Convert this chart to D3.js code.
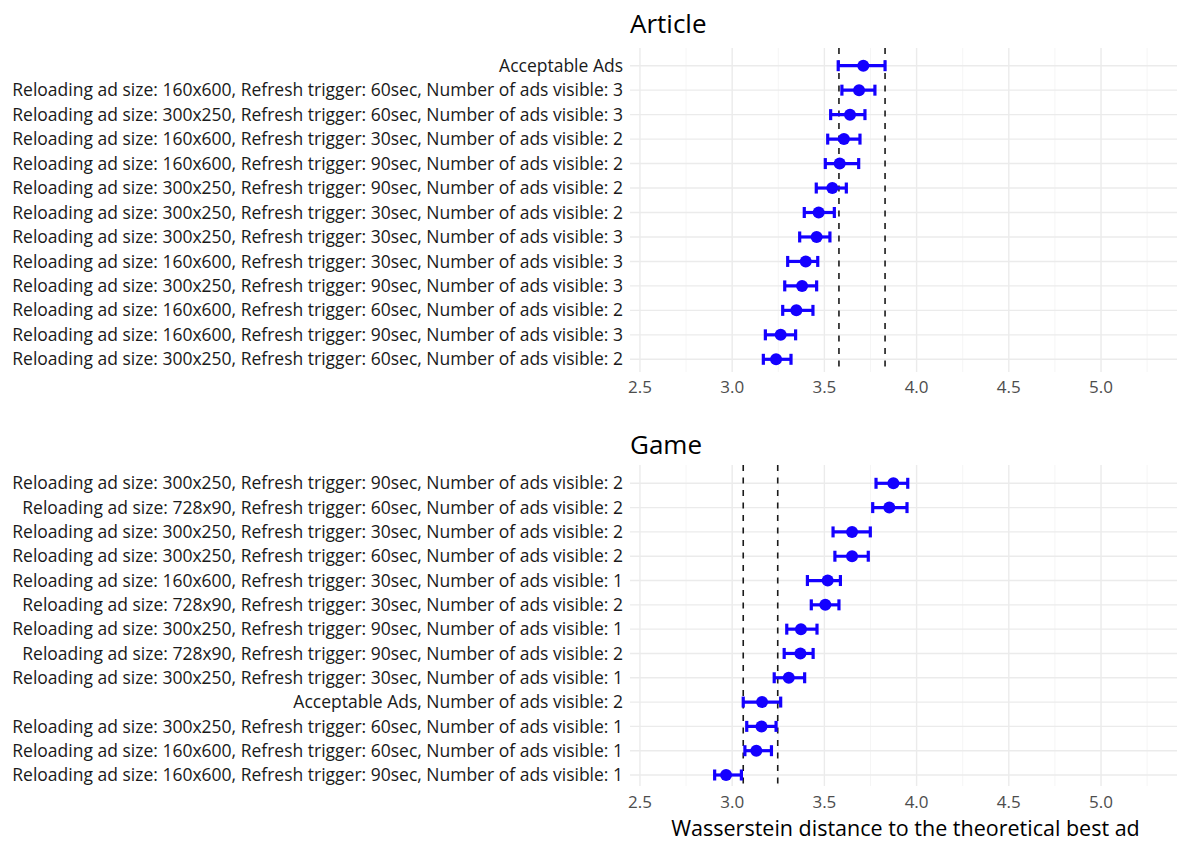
<!DOCTYPE html>
<html>
<head>
<meta charset="utf-8">
<script src="https://cdn.jsdelivr.net/npm/d3@7"></script>
<style>
  html, body { margin: 0; padding: 0; background: #fff; }
  svg { display: block; font-family: "Open Sans", "Noto Sans", sans-serif; }
</style>
</head>
<body>
<svg id="chart" width="1177" height="843"></svg>
<script>
// ---------- Data ----------
const articleCategories = [
  "Acceptable Ads",
  "Reloading ad size: 160x600, Refresh trigger: 60sec, Number of ads visible: 3",
  "Reloading ad size: 300x250, Refresh trigger: 60sec, Number of ads visible: 3",
  "Reloading ad size: 160x600, Refresh trigger: 30sec, Number of ads visible: 2",
  "Reloading ad size: 160x600, Refresh trigger: 90sec, Number of ads visible: 2",
  "Reloading ad size: 300x250, Refresh trigger: 90sec, Number of ads visible: 2",
  "Reloading ad size: 300x250, Refresh trigger: 30sec, Number of ads visible: 2",
  "Reloading ad size: 300x250, Refresh trigger: 30sec, Number of ads visible: 3",
  "Reloading ad size: 160x600, Refresh trigger: 30sec, Number of ads visible: 3",
  "Reloading ad size: 300x250, Refresh trigger: 90sec, Number of ads visible: 3",
  "Reloading ad size: 160x600, Refresh trigger: 60sec, Number of ads visible: 2",
  "Reloading ad size: 160x600, Refresh trigger: 90sec, Number of ads visible: 3",
  "Reloading ad size: 300x250, Refresh trigger: 60sec, Number of ads visible: 2"
];
const articleMean  = [3.711, 3.688, 3.639, 3.606, 3.583, 3.543, 3.469, 3.458, 3.399, 3.379, 3.348, 3.263, 3.238];
const articleLower = [3.575, 3.595, 3.534, 3.518, 3.505, 3.456, 3.391, 3.366, 3.301, 3.285, 3.274, 3.180, 3.169];
const articleUpper = [3.829, 3.774, 3.720, 3.693, 3.686, 3.619, 3.554, 3.530, 3.464, 3.458, 3.438, 3.344, 3.319];
const articleRefLines = [3.579, 3.829];

const gameCategories = [
  "Reloading ad size: 300x250, Refresh trigger: 90sec, Number of ads visible: 2",
  "Reloading ad size: 728x90, Refresh trigger: 60sec, Number of ads visible: 2",
  "Reloading ad size: 300x250, Refresh trigger: 30sec, Number of ads visible: 2",
  "Reloading ad size: 300x250, Refresh trigger: 60sec, Number of ads visible: 2",
  "Reloading ad size: 160x600, Refresh trigger: 30sec, Number of ads visible: 1",
  "Reloading ad size: 728x90, Refresh trigger: 30sec, Number of ads visible: 2",
  "Reloading ad size: 300x250, Refresh trigger: 90sec, Number of ads visible: 1",
  "Reloading ad size: 728x90, Refresh trigger: 90sec, Number of ads visible: 2",
  "Reloading ad size: 300x250, Refresh trigger: 30sec, Number of ads visible: 1",
  "Acceptable Ads, Number of ads visible: 2",
  "Reloading ad size: 300x250, Refresh trigger: 60sec, Number of ads visible: 1",
  "Reloading ad size: 160x600, Refresh trigger: 60sec, Number of ads visible: 1",
  "Reloading ad size: 160x600, Refresh trigger: 90sec, Number of ads visible: 1"
];
const gameMean  = [3.874, 3.852, 3.650, 3.650, 3.518, 3.505, 3.373, 3.370, 3.307, 3.162, 3.159, 3.131, 2.967];
const gameLower = [3.780, 3.762, 3.547, 3.557, 3.408, 3.429, 3.296, 3.282, 3.228, 3.060, 3.079, 3.069, 2.905];
const gameUpper = [3.952, 3.948, 3.749, 3.738, 3.587, 3.579, 3.460, 3.439, 3.393, 3.263, 3.238, 3.213, 3.050];
const gameRefLines = [3.060, 3.247];

const xTicks = [2.5, 3.0, 3.5, 4.0, 4.5, 5.0];
const xMinorTicks = [2.75, 3.25, 3.75, 4.25, 4.75, 5.25];
const xDomain = [2.446, 5.412];
const panelTitles = ["Article", "Game"];
const xAxisTitle = "Wasserstein distance to the theoretical best ad";

// ---------- Layout ----------
const svg = d3.select("#chart");
const panelLeft = 630, panelRight = 1177;
const x = d3.scaleLinear().domain(xDomain).range([panelLeft, panelRight]);

const panels = [
  { title: panelTitles[0], cats: articleCategories, mean: articleMean, lo: articleLower, hi: articleUpper, refs: articleRefLines,
    top: 48, bottom: 372, firstRow: 65.7, lastRow: 359.3, titleY: 33, tickY: 392.5 },
  { title: panelTitles[1], cats: gameCategories, mean: gameMean, lo: gameLower, hi: gameUpper, refs: gameRefLines,
    top: 465, bottom: 786, firstRow: 483.3, lastRow: 775, titleY: 454, tickY: 808 }
];

panels.forEach(p => {
  const g = svg.append("g");
  const y = d3.scalePoint().domain(p.cats).range([p.firstRow, p.lastRow]);

  // minor grid
  g.selectAll(".minor").data(xMinorTicks).join("line")
    .attr("x1", d => x(d)).attr("x2", d => x(d))
    .attr("y1", p.top).attr("y2", p.bottom)
    .attr("stroke", "#f2f2f2").attr("stroke-width", 0.8);
  // major vertical grid
  g.selectAll(".majorx").data(xTicks).join("line")
    .attr("x1", d => x(d)).attr("x2", d => x(d))
    .attr("y1", p.top).attr("y2", p.bottom)
    .attr("stroke", "#ebebeb").attr("stroke-width", 1.4);
  // horizontal grid
  g.selectAll(".majory").data(p.cats).join("line")
    .attr("x1", panelLeft).attr("x2", panelRight)
    .attr("y1", d => y(d)).attr("y2", d => y(d))
    .attr("stroke", "#ebebeb").attr("stroke-width", 1.4);

  // reference dashed lines
  g.selectAll(".ref").data(p.refs).join("line")
    .attr("x1", d => x(d)).attr("x2", d => x(d))
    .attr("y1", p.top).attr("y2", p.bottom)
    .attr("stroke", "#1a1a1a").attr("stroke-width", 1.6)
    .attr("stroke-dasharray", "6,6.5");

  const rows = p.cats.map((c, i) => ({ c, m: p.mean[i], lo: p.lo[i], hi: p.hi[i] }));
  const blue = "#1400ff";
  // error bars
  g.selectAll(".eb").data(rows).join("line")
    .attr("x1", d => x(d.lo)).attr("x2", d => x(d.hi))
    .attr("y1", d => y(d.c)).attr("y2", d => y(d.c))
    .attr("stroke", blue).attr("stroke-width", 3.2);
  ["lo", "hi"].forEach(k => {
    g.selectAll(".cap" + k).data(rows).join("line")
      .attr("x1", d => x(d[k])).attr("x2", d => x(d[k]))
      .attr("y1", d => y(d.c) - 5.5).attr("y2", d => y(d.c) + 5.5)
      .attr("stroke", blue).attr("stroke-width", 3.2);
  });
  g.selectAll(".pt").data(rows).join("circle")
    .attr("cx", d => x(d.m)).attr("cy", d => y(d.c)).attr("r", 6)
    .attr("fill", blue);

  // y labels
  g.selectAll(".ylab").data(p.cats).join("text")
    .attr("x", 623).attr("y", d => y(d)).attr("dy", "0.35em")
    .attr("text-anchor", "end").attr("font-size", 17.5).attr("fill", "#1a1a1a")
    .text(d => d);

  // x tick labels
  g.selectAll(".xlab").data(xTicks).join("text")
    .attr("x", d => x(d)).attr("y", p.tickY)
    .attr("text-anchor", "middle").attr("font-size", 17).attr("fill", "#4d4d4d")
    .text(d => d.toFixed(1));

  // title
  g.append("text").attr("x", panelLeft).attr("y", p.titleY)
    .attr("font-size", 26).attr("fill", "#000").text(p.title);
});

svg.append("text")
  .attr("x", (panelLeft + panelRight) / 2 + 2).attr("y", 836)
  .attr("text-anchor", "middle").attr("font-size", 21.5).attr("fill", "#000")
  .text(xAxisTitle);
</script>
</body>
</html>
